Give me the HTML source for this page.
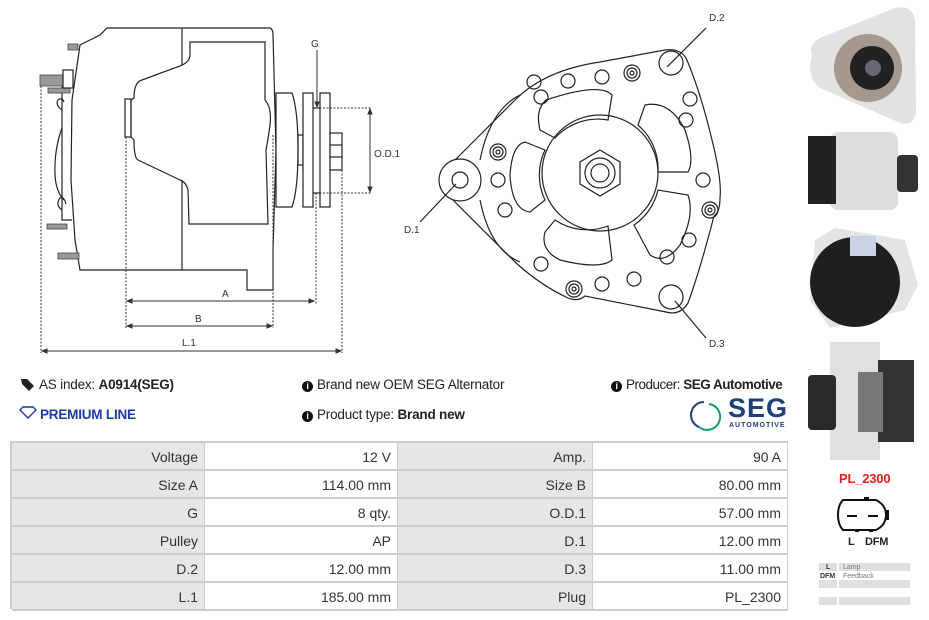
<!DOCTYPE html>
<html><head><meta charset="utf-8"><style>
body{margin:0;width:929px;height:620px;background:#fff;position:relative;overflow:hidden;font-family:"Liberation Sans",sans-serif;color:#222}
.t{position:absolute;font-size:13.5px;white-space:nowrap;letter-spacing:-0.2px}
.i{display:inline-block;width:11px;height:11px;border-radius:50%;background:#111;color:#fff;font-size:9px;line-height:11px;text-align:center;font-weight:bold;vertical-align:0px;margin-right:4px}
.c{position:absolute;box-sizing:border-box;height:28px;line-height:28px;text-align:right;padding-right:6px;font-size:14px;color:#333;border-right:1px solid #ccc;border-bottom:2px solid #ccc}
.g{background:#e6e6e6}
.w{background:#fff}
</style></head><body>
<svg width="929" height="620" style="position:absolute;left:0;top:0" xmlns="http://www.w3.org/2000/svg">
<g fill="none" stroke="#222" stroke-width="1.2">
<path d="M80,45 L100,35 L107,28 L270,28 Q273,29 273,35 L276,150 L273,250 L273,290 L247,290 L247,270 L80,270 L75,240 L71,180 L72,100 Z" fill="#fff"/>
<line x1="182" y1="28" x2="182" y2="270"/>
<path d="M190,42 L265,42 L265,100 Q272,108 270,125 Q268,140 266,150 L268,224 L189,224 L188,190 Q186,182 180,180 L138,160 Q134,158 134,140 L131,137 L131,100 L134,98 Q134,82 142,80 L180,66 Q190,62 190,55 Z" fill="#fff"/>
<rect x="125" y="99" width="6" height="38"/>
<path d="M72,87 L62,87 L62,220 L72,220"/>
<path d="M62,110 Q55,105 58,100 Q62,97 64,102 M62,210 Q55,205 60,198 Q64,196 66,204"/>
<path d="M62,128 Q54,150 55,175 Q56,192 64,200"/>
<g fill="#999" stroke="#444" stroke-width="0.8">
<rect x="68" y="44" width="10" height="6"/><rect x="40" y="75" width="23" height="11"/><rect x="48" y="88" width="22" height="5"/>
<rect x="47" y="224" width="20" height="5"/><rect x="58" y="253" width="21" height="6"/></g>
<rect x="63" y="70" width="10" height="18" fill="#fff"/>
<path d="M276,93 L292,93 Q298,110 298,150 Q298,190 292,207 L276,207 Z" fill="#fff"/>
<rect x="298" y="135" width="5" height="30"/>
<rect x="303" y="93" width="10" height="114" fill="#fff"/>
<rect x="320" y="93" width="10" height="114" fill="#fff"/>
<rect x="330" y="133" width="12" height="37" fill="#fff"/>
<line x1="330" y1="145" x2="342" y2="145"/><line x1="330" y1="157" x2="342" y2="157"/>
<line x1="313" y1="108" x2="320" y2="108"/><line x1="313" y1="193" x2="320" y2="193"/>
</g>
<g fill="none" stroke="#333" stroke-width="1" stroke-dasharray="2,1.5">
<line x1="41" y1="86" x2="41" y2="353"/><line x1="126" y1="137" x2="126" y2="328"/>
<line x1="273" y1="135" x2="273" y2="328"/><line x1="316" y1="193" x2="316" y2="304"/>
<line x1="342" y1="170" x2="342" y2="353"/>
<line x1="316" y1="108" x2="372" y2="108"/><line x1="316" y1="193" x2="372" y2="193"/>
</g>
<g stroke="#333" stroke-width="1" fill="#333">
<line x1="128" y1="301" x2="313" y2="301"/><path d="M127,301 l5,-2 v4z M314,301 l-5,-2 v4z"/>
<line x1="128" y1="326" x2="271" y2="326"/><path d="M127,326 l5,-2 v4z M272,326 l-5,-2 v4z"/>
<line x1="43" y1="351" x2="340" y2="351"/><path d="M42,351 l5,-2 v4z M341,351 l-5,-2 v4z"/>
<line x1="370" y1="111" x2="370" y2="190"/><path d="M370,109 l-2,5 h4z M370,192 l-2,-5 h4z"/>
<line x1="317" y1="50" x2="317" y2="105"/><path d="M317,107 l-2,-5 h4z"/>
</g>
<g font-family="Liberation Sans,sans-serif" font-size="10" fill="#333">
<text x="222" y="297">A</text><text x="195" y="322">B</text><text x="182" y="346">L.1</text>
<text x="311" y="47">G</text><text x="374" y="157">O.D.1</text>
<text x="709" y="21">D.2</text><text x="404" y="233">D.1</text><text x="709" y="347">D.3</text>
</g>
<g fill="none" stroke="#222" stroke-width="1.2">
<path d="M447,168 L515,100 Q545,70 600,62 L665,50 Q680,48 686,58 Q700,90 712,140 Q722,180 720,198 Q720,212 714,216 Q700,270 688,303 Q680,316 666,312 L585,296 Q578,302 568,298 Q540,285 515,262 L447,194 Z" fill="#fff"/>
<path d="M480,160 Q490,110 520,95 M480,200 Q490,250 520,262"/>
<circle cx="460" cy="180" r="21" fill="#fff"/><circle cx="460" cy="180" r="8"/>
<circle cx="600" cy="173" r="58"/>
<polygon points="600,150 620,162 620,184 600,196 580,184 580,162"/>
<circle cx="600" cy="173" r="15"/><circle cx="600" cy="173" r="9"/>
<path d="M546,100 Q600,82 612,95 L608,120 A58,58 0 0 0 555,138 L540,130 Q535,110 546,100Z"/>
<path d="M645,105 Q670,100 685,130 Q695,160 688,172 L658,172 A58,58 0 0 0 638,125 Z"/>
<path d="M688,195 Q695,215 680,245 Q665,265 650,255 L634,225 A58,58 0 0 0 658,190 Z"/>
<path d="M608,226 L612,260 Q600,270 560,260 Q540,250 545,232 L555,220 A58,58 0 0 0 608,226Z"/>
<path d="M545,150 L525,142 Q512,145 510,175 Q512,210 530,212 L545,200 A58,58 0 0 1 545,150Z"/>
<g>
<circle cx="534" cy="82" r="7"/><circle cx="568" cy="81" r="7"/><circle cx="602" cy="77" r="7"/>
<circle cx="541" cy="97" r="7"/><circle cx="690" cy="99" r="7"/><circle cx="686" cy="120" r="7"/>
<circle cx="498" cy="180" r="7"/><circle cx="505" cy="210" r="7"/><circle cx="703" cy="180" r="7"/>
<circle cx="689" cy="240" r="7"/><circle cx="667" cy="257" r="7"/><circle cx="541" cy="264" r="7"/>
<circle cx="602" cy="284" r="7"/><circle cx="634" cy="279" r="7"/>
<circle cx="671" cy="63" r="12"/><circle cx="671" cy="297" r="12"/>
<circle cx="632" cy="73" r="8"/><circle cx="632" cy="73" r="5"/><circle cx="632" cy="73" r="2"/>
<circle cx="498" cy="152" r="8"/><circle cx="498" cy="152" r="5"/><circle cx="498" cy="152" r="2"/>
<circle cx="710" cy="210" r="8"/><circle cx="710" cy="210" r="5"/><circle cx="710" cy="210" r="2"/>
<circle cx="574" cy="289" r="8"/><circle cx="574" cy="289" r="5"/><circle cx="574" cy="289" r="2"/>
</g>
<line x1="706" y1="28" x2="667" y2="67"/><line x1="420" y1="222" x2="456" y2="184"/><line x1="706" y1="338" x2="675" y2="301"/>
</g>
<!-- photos -->
<path d="M812,55 Q808,45 820,38 L895,8 Q912,4 915,20 L916,112 Q914,128 898,122 L820,88 Q806,78 812,55Z" fill="#e2e2e0"/>
<circle cx="868" cy="68" r="34" fill="#a5998f"/><circle cx="872" cy="68" r="22" fill="#222"/><circle cx="873" cy="68" r="8" fill="#667"/>
<rect x="830" y="132" width="68" height="78" rx="8" fill="#ddd"/><rect x="808" y="136" width="28" height="68" fill="#222"/>
<rect x="897" y="155" width="21" height="37" rx="4" fill="#333"/>
<path d="M815,240 L835,228 L905,240 L918,285 L905,310 L830,328 L810,300Z" fill="#e4e4e4"/>
<circle cx="855" cy="282" r="45" fill="#1f1f1f"/><rect x="850" y="236" width="26" height="20" fill="#c9d3e3"/>
<rect x="830" y="342" width="50" height="118" fill="#e0e0e0"/><rect x="808" y="375" width="28" height="55" rx="4" fill="#2a2a2a"/>
<rect x="878" y="360" width="36" height="82" fill="#333"/><rect x="858" y="372" width="25" height="60" fill="#777"/>
<path d="M843,500 Q838,505 838,515 Q838,525 843,530 L876,530 Q886,525 886,515 Q886,505 876,500 Z" fill="none" stroke="#111" stroke-width="2"/>
<rect x="886" y="510" width="3" height="10" fill="#111"/>
<line x1="847" y1="516" x2="857" y2="516" stroke="#111" stroke-width="2"/><line x1="868" y1="516" x2="878" y2="516" stroke="#111" stroke-width="2"/>
<rect x="864" y="497" width="5" height="4" fill="#111"/><rect x="855" y="529" width="4" height="3" fill="#111"/><rect x="869" y="529" width="4" height="3" fill="#111"/>
<g fill="#e0e0e0"><rect x="819" y="563" width="18" height="8"/><rect x="839" y="563" width="71" height="8"/>
<rect x="819" y="580" width="18" height="8"/><rect x="839" y="580" width="71" height="8"/>
<rect x="819" y="597" width="18" height="8"/><rect x="839" y="597" width="71" height="8"/></g>
<g font-family="Liberation Sans,sans-serif" font-size="7" fill="#333"><text x="826" y="569" font-weight="bold">L</text><text x="843" y="569" fill="#777">Lamp</text>
<text x="820" y="578" font-weight="bold">DFM</text><text x="843" y="578" fill="#777">Feedback</text></g>
<path d="M709,404 A13,13 0 1 1 699,427" fill="none" stroke="#1a9b6d" stroke-width="2"/>
<path d="M699,427 A13,13 0 0 1 704,402" fill="none" stroke="#1d3f7c" stroke-width="2"/>
<path d="M21,379 l6,0 l7,7 l-5,5 l-7,-7z" fill="#222"/>
<path d="M20,410 l3,-3 h10 l3,3 l-8,8z" fill="none" stroke="#1d3aa8" stroke-width="1.4"/>
</svg>
<div class="t" style="left:39px;top:377px">AS index: <b>A0914(SEG)</b></div>
<div class="t" style="left:40px;top:407px;color:#1d3aa8;font-weight:bold">PREMIUM LINE</div>
<div class="t" style="left:302px;top:377px"><span class="i">i</span>Brand new OEM SEG Alternator</div>
<div class="t" style="left:302px;top:407px"><span class="i">i</span>Product type: <b>Brand new</b></div>
<div class="t" style="left:611px;top:377px;letter-spacing:-0.5px"><span class="i">i</span>Producer: <b>SEG Automotive</b></div>
<div class="t" style="left:728px;top:393px;font-size:27px;font-weight:bold;color:#1d3f7c;letter-spacing:1px">SEG</div>
<div class="t" style="left:729px;top:422px;font-size:7px;font-weight:bold;color:#1d3f7c;letter-spacing:1px">AUTOMOTIVE</div>
<div class="t" style="left:839px;top:471px;font-size:13px;font-weight:bold;color:#e02020">PL_2300</div>
<div class="t" style="left:848px;top:536px;font-size:11px;font-weight:bold">L</div>
<div class="t" style="left:865px;top:536px;font-size:11px;font-weight:bold">DFM</div>
<div style="position:absolute;left:10px;top:441px;width:778px;height:168px;border:2px solid #ccc;border-bottom:none;border-right:none;box-sizing:border-box"></div>
<div id="tb"></div>
<script>
var r=[["Voltage","12 V","Amp.","90 A"],["Size A","114.00 mm","Size B","80.00 mm"],["G","8 qty.","O.D.1","57.00 mm"],["Pulley","AP","D.1","12.00 mm"],["D.2","12.00 mm","D.3","11.00 mm"],["L.1","185.00 mm","Plug","PL_2300"]];
var x=[12,205,398,593,788],h="";
r.forEach(function(row,i){row.forEach(function(v,j){h+='<div class="c '+(j%2?'w':'g')+'" style="left:'+x[j]+'px;top:'+(443+i*28)+'px;width:'+(x[j+1]-x[j])+'px">'+v+'</div>';});});
document.getElementById('tb').innerHTML=h;
</script>
</body></html>
